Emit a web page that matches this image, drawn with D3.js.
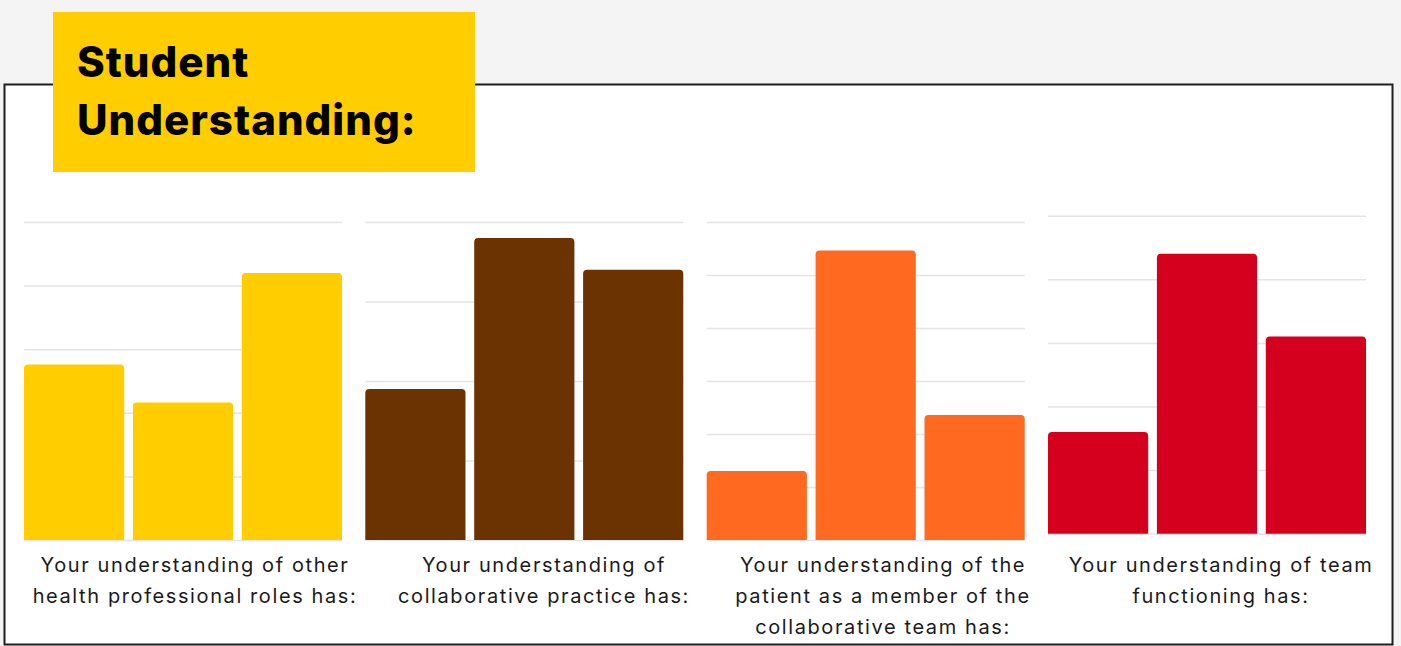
<!DOCTYPE html>
<html>
<head>
    <title>Student Understanding</title>
    <script src="https://d3js.org/d3.v7.min.js"></script>
    <style>
        body { margin: 0; background: #f4f4f4; }
        svg { display: block; }
    </style>
</head>
<body>
<div id="chart"></div>
<script type="text/javascript">
    // data (counts, grid step of 5)
    const questions = [
        ['Your understanding of other', 'health professional roles has:'],
        ['Your understanding of', 'collaborative practice has:'],
        ['Your understanding of the', 'patient as a member of the', 'collaborative team has:'],
        ['Your understanding of team', 'functioning has:']
    ];
    const answers = ['Stayed the same', 'Improved', 'Improved greatly'];
    const rolesValues = [13.8, 10.8, 21.0];
    const practiceValues = [9.5, 19.0, 17.0];
    const patientValues = [6.5, 27.3, 11.8];
    const teamValues = [8.0, 22.0, 15.5];
    const axisMax = [25, 20, 30, 25];
    const tickStep = 5;

    const seriesValues = [rolesValues, practiceValues, patientValues, teamValues];
    const colors = ['#ffcd00', '#6b3302', '#ff6a20', '#d4001e'];

    const width = 1401;
    const height = 646;

    const svg = d3.select('#chart').append('svg')
        .attr('width', width).attr('height', height);

    // white card with dark border
    svg.append('rect')
        .attr('x', 4.5).attr('y', 84.5)
        .attr('width', 1388).attr('height', 560)
        .attr('fill', '#fff')
        .attr('stroke', '#1e1e1e')
        .attr('stroke-width', 2);

    // title box
    svg.append('rect')
        .attr('x', 53).attr('y', 12)
        .attr('width', 422).attr('height', 160)
        .attr('fill', '#ffcd00');

    const title = svg.append('text')
        .style('font-family', 'Inter, sans-serif')
        .style('font-weight', 800)
        .style('font-size', '42px')
        .style('letter-spacing', '1px')
        .attr('fill', '#000');
    title.append('tspan').attr('x', 77).attr('y', 77).text('Student');
    title.append('tspan').attr('x', 77).attr('y', 135).text('Understanding:');

    const panelW = 318;
    const panelH = 318;
    const panelX = [24, 365.3, 706.7, 1048];
    const panelTop = [222, 222, 222, 215.7];
    const labelX = [195, 544, 883, 1221]; // label centres sit a bit right of the panels

    seriesValues.forEach((values, i) => {
        const g = svg.append('g')
            .attr('transform', `translate(${panelX[i]},${panelTop[i]})`);

        const x = d3.scaleBand(answers, [0, panelW]).paddingInner(0.08).paddingOuter(0);
        const y = d3.scaleLinear().domain([0, axisMax[i]]).range([panelH, 0]);

        // gridlines
        const grid = g.append('g')
            .call(d3.axisLeft(y)
                .tickValues(d3.range(0, axisMax[i] + 0.01, tickStep))
                .tickSize(-panelW)
                .tickFormat(''));
        grid.select('.domain').remove();
        grid.selectAll('.tick line')
            .attr('stroke', '#e4e4e4')
            .attr('stroke-width', 1.5);

        // bars with rounded tops
        const r = 4;
        g.selectAll('path.bar')
            .data(values)
            .enter()
            .append('path')
            .attr('class', 'bar')
            .attr('fill', colors[i])
            .attr('d', (d, k) => {
                const x0 = x(answers[k]);
                const x1 = x0 + x.bandwidth();
                const y0 = y(d);
                const yb = y(0);
                return `M${x0},${yb} V${y0 + r} Q${x0},${y0} ${x0 + r},${y0} H${x1 - r} Q${x1},${y0} ${x1},${y0 + r} V${yb} Z`;
            });

        // question label
        const label = svg.append('text')
            .attr('text-anchor', 'middle')
            .style('font-family', 'Inter, sans-serif')
            .style('font-size', '20px')
            .style('letter-spacing', '1.6px')
            .attr('fill', '#1a1a1a');
        questions[i].forEach((line, j) => {
            label.append('tspan')
                .attr('x', labelX[i])
                .attr('y', 572 + j * 31)
                .text(line);
        });
    });
</script>
</body>
</html>
